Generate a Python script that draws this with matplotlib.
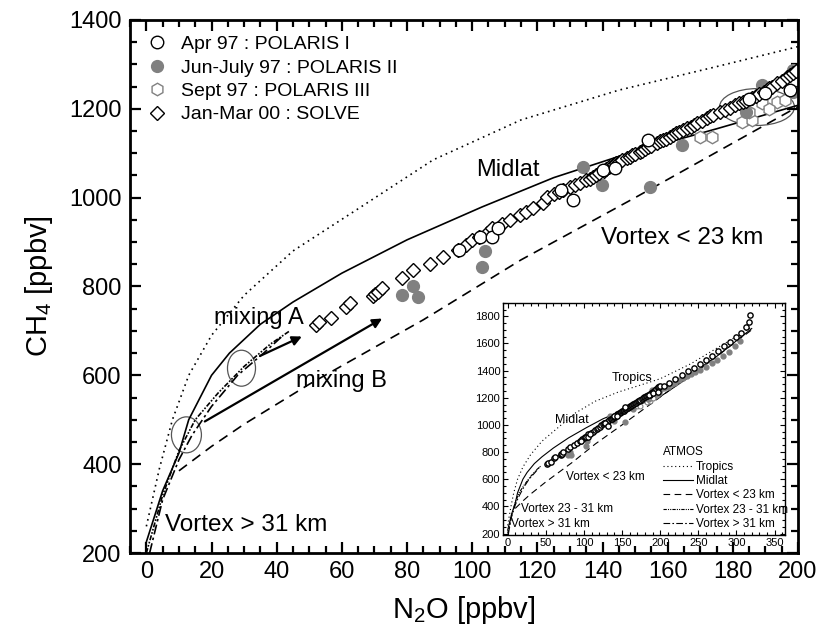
import matplotlib.pyplot as plt
from matplotlib.patches import Ellipse
from matplotlib.ticker import MultipleLocator

plt.rcParams["font.family"] = ["Liberation Sans", "DejaVu Sans"]
plt.rcParams["mathtext.default"] = "regular"

# ATMOS reference correlation curves (N2O, CH4 in ppbv)
tropics_n2o = [0, 4, 8, 13, 20, 30, 45, 65, 88, 115, 145, 175, 200, 240, 280, 320]
tropics_ch4 = [260, 390, 500, 600, 690, 780, 880, 975, 1085, 1175, 1242, 1295, 1340, 1450, 1585, 1720]
midlat_n2o = [0, 5, 10, 13, 20, 25.5, 35, 45, 60, 80, 103, 125, 148, 175, 200, 240, 280, 320]
midlat_ch4 = [225, 340, 425, 500, 600, 650, 715, 765, 830, 905, 979, 1045, 1100, 1155, 1208, 1360, 1530, 1710]
vlow_n2o = [10, 20, 30, 50, 85, 115, 150, 200, 240, 280, 320]
vlow_ch4 = [385, 440, 490, 580, 725, 860, 1000, 1205, 1370, 1530, 1700]
vmid_n2o = [0, 5, 10, 15, 22, 30, 38, 44]
vmid_ch4 = [200, 330, 430, 500, 560, 620, 670, 700]
vhigh_n2o = [1, 5, 10, 14, 20, 28, 36, 42]
vhigh_ch4 = [200, 320, 410, 465, 530, 600, 650, 690]

# POLARIS I, Apr 97
pol1_n2o = [96.0, 102.3, 106.0, 108.0, 127.4, 131.0, 140.0, 143.8, 154.0, 185.0, 190.0, 197.5]
pol1_ch4 = [882, 911, 911, 932, 1017, 995, 1062, 1067, 1130, 1222, 1236, 1242]
# POLARIS II, Jun-July 97
pol2_n2o = [78.6, 81.7, 83.3, 103.8, 103.0, 134.0, 139.8, 154.5, 164.4, 184.0, 189.0, 198.5, 198.5]
pol2_ch4 = [781, 801, 776, 880, 844, 1069, 1029, 1024, 1119, 1193, 1254, 1287, 1238]
# POLARIS III, Sept 97
pol3_n2o = [170.0, 173.6, 182.8, 186.0, 185.0, 189.0, 193.5, 196.0, 191.0]
pol3_ch4 = [1137, 1137, 1170, 1175, 1193, 1213, 1215, 1220, 1200]
# SOLVE, Jan-Mar 00
solve_n2o = [52.0, 53.0, 56.8, 61.4, 62.4, 69.5, 70.2, 71.0, 72.2, 78.6, 81.7, 87.0, 91.0,
             95.5, 98.0, 99.8, 102.0, 104.5, 106.0, 109.0, 111.5, 114.6, 116.5, 118.6,
             121.7, 122.9, 125.0, 126.5, 127.8, 130.0, 131.5, 133.0, 135.0, 136.0, 137.0,
             138.0, 139.0, 140.5, 141.0, 142.0, 143.5, 144.0, 145.0, 146.0, 147.5, 148.5,
             149.0, 150.0, 151.5, 152.0, 153.0, 154.0, 155.0, 156.7, 157.5, 158.5, 159.5,
             160.7, 161.5, 162.5, 163.5, 164.7, 166.0, 167.0, 168.0, 169.0, 170.5, 172.0,
             173.0, 174.0, 176.0, 177.5, 179.0, 180.5, 182.0, 183.0, 184.0, 186.0, 187.0,
             188.0, 189.5, 190.5, 191.0, 192.0, 193.5, 195.0, 196.6, 197.5, 198.5, 199.5]
solve_ch4 = [713, 719, 729, 754, 763, 779, 783, 788, 797, 819, 837, 850, 866,
             882, 893, 905, 911, 920, 932, 940, 950, 961, 968, 977,
             988, 1001, 1008, 1012, 1017, 1025, 1029, 1033, 1040, 1043, 1046,
             1050, 1055, 1060, 1064, 1069, 1075, 1077, 1080, 1085, 1089, 1092,
             1095, 1099, 1103, 1106, 1110, 1114, 1117, 1123, 1127, 1130, 1133,
             1137, 1141, 1145, 1148, 1152, 1156, 1160, 1164, 1168, 1173, 1179,
             1183, 1186, 1193, 1198, 1202, 1208, 1213, 1215, 1218, 1224, 1228,
             1233, 1238, 1242, 1246, 1250, 1258, 1262, 1271, 1276, 1280, 1284]
# high-N2O measurements shown only in the full-range panel
hi_n2o = [205, 212, 220, 228, 236, 244, 252, 260, 268, 276, 284, 292, 300, 306, 312, 316, 318]
hi_ch4 = [1290, 1310, 1340, 1365, 1395, 1420, 1450, 1480, 1510, 1545, 1580, 1610, 1650, 1680, 1720, 1760, 1810]
hi_gray_n2o = [195, 200, 205, 210, 215, 220, 225, 230, 235, 240, 245, 252, 260, 268, 275, 283, 290, 298, 305]
hi_gray_ch4 = [1230, 1255, 1270, 1280, 1300, 1310, 1330, 1345, 1360, 1375, 1390, 1405, 1430, 1455, 1480, 1510, 1540, 1580, 1620]

GRAY = "#808080"


def draw_curves(ax, lw):
    ax.plot(tropics_n2o, tropics_ch4, color="black", lw=lw, ls=(0, (1, 2.5)), label="Tropics")
    ax.plot(midlat_n2o, midlat_ch4, color="black", lw=lw, ls="-", label="Midlat")
    ax.plot(vlow_n2o, vlow_ch4, color="black", lw=lw, ls=(0, (6, 4)), label="Vortex < 23 km")
    ax.plot(vmid_n2o, vmid_ch4, color="black", lw=lw, ls=(0, (3, 1, 1, 1, 1, 1)),
            label="Vortex 23 - 31 km")
    ax.plot(vhigh_n2o, vhigh_ch4, color="black", lw=lw, ls=(0, (6, 2, 1.5, 2)),
            label="Vortex > 31 km")


def style_ticks(ax, size, major_len, minor_len, width, pad):
    ax.tick_params(which="both", direction="in", top=True, right=True, width=width,
                   labelsize=size, pad=pad)
    ax.tick_params(which="major", length=major_len)
    ax.tick_params(which="minor", length=minor_len)


fig = plt.figure(figsize=(8.18, 6.36), dpi=100)
ax = fig.add_axes([0.159, 0.1305, 0.8166, 0.8381])

draw_curves(ax, 1.2)

ax.plot(pol3_n2o, pol3_ch4, ls="none", marker="h", ms=9, mfc="white", mec=GRAY, mew=1.0,
        label="Sept 97 : POLARIS III")
ax.plot(pol2_n2o, pol2_ch4, ls="none", marker="o", ms=8.5, mfc=GRAY, mec=GRAY,
        label="Jun-July 97 : POLARIS II")
ax.plot(solve_n2o, solve_ch4, ls="none", marker="D", ms=6.8, mfc="white", mec="black", mew=1.0,
        label="Jan-Mar 00 : SOLVE")
ax.plot(pol1_n2o, pol1_ch4, ls="none", marker="o", ms=9, mfc="white", mec="black", mew=1.0,
        label="Apr 97 : POLARIS I")

# mixing regions and arrows
ax.add_patch(Ellipse((12.3, 466), 9.2, 81, fill=False, ec="#555555", lw=0.9))
ax.add_patch(Ellipse((29.2, 616), 8.6, 81, fill=False, ec="#555555", lw=0.9))
ax.add_patch(Ellipse((187.4, 1204), 23, 83, fill=False, ec="#555555", lw=0.9))
ax.annotate("", xy=(48.5, 690), xytext=(34.1, 641),
            arrowprops=dict(arrowstyle="-|>", color="black", lw=1.6, mutation_scale=14))
ax.annotate("", xy=(73.1, 731), xytext=(17.2, 493),
            arrowprops=dict(arrowstyle="-|>", color="black", lw=1.6, mutation_scale=14))

ax.text(34.4, 729, "mixing A", fontsize=17, ha="center", va="center")
ax.text(59.9, 587, "mixing B", fontsize=17, ha="center", va="center")
ax.text(110.9, 1062, "Midlat", fontsize=17, ha="center", va="center")
ax.text(164.4, 909, "Vortex < 23 km", fontsize=17.5, ha="center", va="center")
ax.text(30.7, 263, "Vortex > 31 km", fontsize=17.5, ha="center", va="center")

ax.set_xlim(-5, 200)
ax.set_ylim(200, 1400)
ax.xaxis.set_major_locator(MultipleLocator(20))
ax.xaxis.set_minor_locator(MultipleLocator(5))
ax.yaxis.set_major_locator(MultipleLocator(200))
ax.yaxis.set_minor_locator(MultipleLocator(50))
style_ticks(ax, 17, 8, 5, 1.6, 6)
for spine in ax.spines.values():
    spine.set_linewidth(2.0)
ax.set_xlabel("N$_2$O [ppbv]", fontsize=21, labelpad=8)
ax.set_ylabel("CH$_4$ [ppbv]", fontsize=21, labelpad=10)

handles, labels = ax.get_legend_handles_labels()
order = ["Apr 97 : POLARIS I", "Jun-July 97 : POLARIS II", "Sept 97 : POLARIS III",
         "Jan-Mar 00 : SOLVE"]
hmap = dict(zip(labels, handles))
ax.legend([hmap[k] for k in order], order, loc="upper left", fontsize=14, frameon=False,
          handletextpad=0.6, labelspacing=0.3, borderaxespad=0.4, handlelength=1.2)

# full-range inset
ins = fig.add_axes([0.615, 0.159, 0.345, 0.365])
draw_curves(ins, 0.8)
ins.plot(pol3_n2o, pol3_ch4, ls="none", marker="o", ms=3.5, mfc="white", mec=GRAY, mew=0.8)
ins.plot(pol2_n2o + hi_gray_n2o, pol2_ch4 + hi_gray_ch4, ls="none", marker="o", ms=3.5,
         mfc=GRAY, mec=GRAY)
ins.plot(solve_n2o + hi_n2o, solve_ch4 + hi_ch4, ls="none", marker="o", ms=3.8,
         mfc="white", mec="black", mew=1.0)
ins.plot(pol1_n2o, pol1_ch4, ls="none", marker="o", ms=3.8, mfc="white", mec="black", mew=1.0)
ins.text(163, 1348, "Tropics", fontsize=9, ha="center", va="center")
ins.text(84, 1037, "Midlat", fontsize=9, ha="center", va="center")
ins.text(127.6, 615, "Vortex < 23 km", fontsize=8.5, ha="center", va="center")
ins.text(77.6, 378, "Vortex 23 - 31 km", fontsize=8.5, ha="center", va="center")
ins.text(56.6, 267, "Vortex > 31 km", fontsize=8.5, ha="center", va="center")
ins.set_xlim(-6, 364)
ins.set_ylim(190, 1900)
ins.xaxis.set_major_locator(MultipleLocator(50))
ins.xaxis.set_minor_locator(MultipleLocator(10))
ins.yaxis.set_major_locator(MultipleLocator(200))
ins.yaxis.set_minor_locator(MultipleLocator(50))
style_ticks(ins, 8, 3.5, 2, 0.8, 2)
for spine in ins.spines.values():
    spine.set_linewidth(1.0)
ins.legend(loc="lower left", bbox_to_anchor=(0.54, -0.01), title="ATMOS", fontsize=8.5,
           title_fontsize=8.5, alignment="left", frameon=False, handlelength=2.6,
           handletextpad=0.2, labelspacing=0.2, borderaxespad=0.2)

fig.savefig("out.png", dpi=100)
